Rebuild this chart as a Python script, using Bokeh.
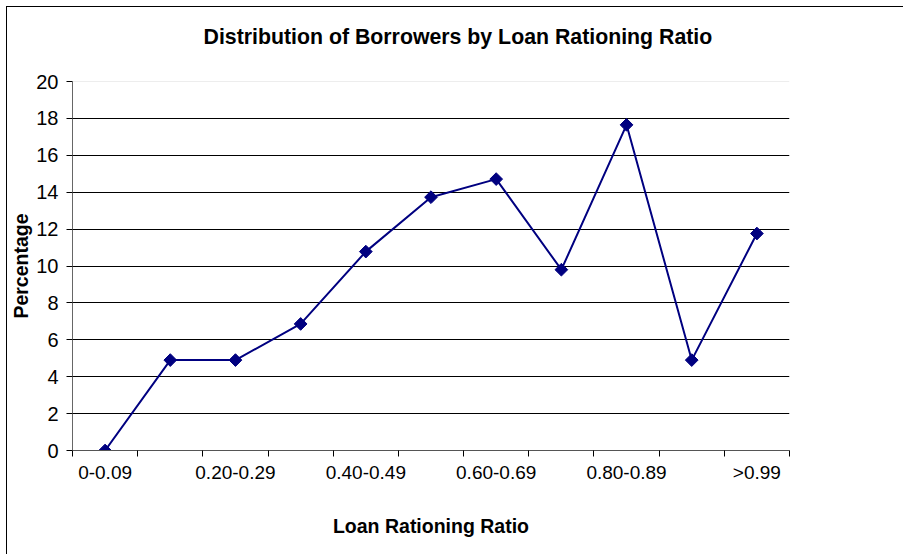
import math
from bokeh.plotting import figure
from bokeh.models import FixedTicker, Span, Range1d, Title
from bokeh.embed import file_html
from bokeh.resources import INLINE

categories = ["0-0.09", "0.10-0.19", "0.20-0.29", "0.30-0.39", "0.40-0.49",
              "0.50-0.59", "0.60-0.69", "0.70-0.79", "0.80-0.89", "0.90-0.99", ">0.99"]
percentages = [0.0, 4.9, 4.9, 6.86, 10.78, 13.73, 14.71, 9.8, 17.65, 4.9, 11.76]
y_ticks = [0, 2, 4, 6, 8, 10, 12, 14, 16, 18, 20]
shown_labels = ["0-0.09", "0.20-0.29", "0.40-0.49", "0.60-0.69", "0.80-0.89", ">0.99"]

FONT = "Liberation Sans"
n = len(categories)
xs = [i + 0.5 for i in range(n)]

p = figure(frame_width=717, frame_height=369,
           min_border_left=65, min_border_top=74, min_border_right=114, min_border_bottom=104,
           x_range=Range1d(0, n), y_range=Range1d(0, 20),
           output_backend="svg", toolbar_location=None,
           background_fill_color="white", border_fill_color="white")
p.styles = {"margin-left": "6px", "margin-top": "6px",
            "border-left": "1px solid #000000", "border-top": "1px solid #000000"}
p.outline_line_color = None

# spacer between frame and title, then the title itself
p.add_layout(Title(text=" ", standoff=30, text_font_size="1px"), "above")
p.add_layout(Title(text="Distribution of Borrowers by Loan Rationing Ratio",
                   align="left", offset=131, standoff=0, vertical_align="bottom",
                   text_font=FONT, text_font_size="21.3px", text_font_style="bold",
                   text_color="#000000"), "above")

# grid
p.xgrid.visible = False
p.ygrid.ticker = FixedTicker(ticks=[t for t in y_ticks if 0 < t < 20])
p.ygrid.grid_line_color = "#000000"
p.ygrid.grid_line_width = 1
p.add_layout(Span(location=20, dimension="width", line_color="#dcdcdc", line_width=1))

# x axis
label_pos = [xs[categories.index(c)] for c in shown_labels]
p.xaxis.ticker = FixedTicker(ticks=label_pos, minor_ticks=list(range(n + 1)))
p.xaxis.major_label_overrides = {pos: c for pos, c in zip(label_pos, shown_labels)}
p.xaxis.major_tick_line_color = None
p.xaxis.major_tick_out = 6
p.xaxis.major_tick_in = 0
p.xaxis.minor_tick_line_color = "#000000"
p.xaxis.minor_tick_out = 6
p.xaxis.minor_tick_in = 0
p.xaxis.axis_line_color = "#555555"
p.xaxis.major_label_standoff = 5
p.xaxis.major_label_text_font = FONT
p.xaxis.major_label_text_font_size = "19px"
p.xaxis.major_label_text_color = "#000000"
p.xaxis.axis_label = "Loan Rationing Ratio"
p.xaxis.axis_label_standoff = 29
p.xaxis.axis_label_text_font = FONT
p.xaxis.axis_label_text_font_size = "19.5px"
p.xaxis.axis_label_text_font_style = "bold"
p.xaxis.axis_label_text_color = "#000000"

# y axis
p.yaxis.ticker = FixedTicker(ticks=y_ticks)
p.yaxis.minor_tick_line_color = None
p.yaxis.major_tick_line_color = "#000000"
p.yaxis.major_tick_out = 6
p.yaxis.major_tick_in = 0
p.yaxis.axis_line_color = "#666666"
p.yaxis.major_label_standoff = 8
p.yaxis.major_label_text_font = FONT
p.yaxis.major_label_text_font_size = "20px"
p.yaxis.major_label_text_color = "#000000"
p.yaxis.axis_label = "Percentage"
p.yaxis.axis_label_standoff = 1
p.yaxis.axis_label_text_font = FONT
p.yaxis.axis_label_text_font_size = "19.5px"
p.yaxis.axis_label_text_font_style = "bold"
p.yaxis.axis_label_text_color = "#000000"

# data
p.line(xs, percentages, line_color="#000080", line_width=2)
p.scatter(xs, percentages, marker="square", size=9, angle=math.pi / 4,
          fill_color="#000080", line_color="#000080")

open("out.html", "w").write(file_html(p, INLINE))
